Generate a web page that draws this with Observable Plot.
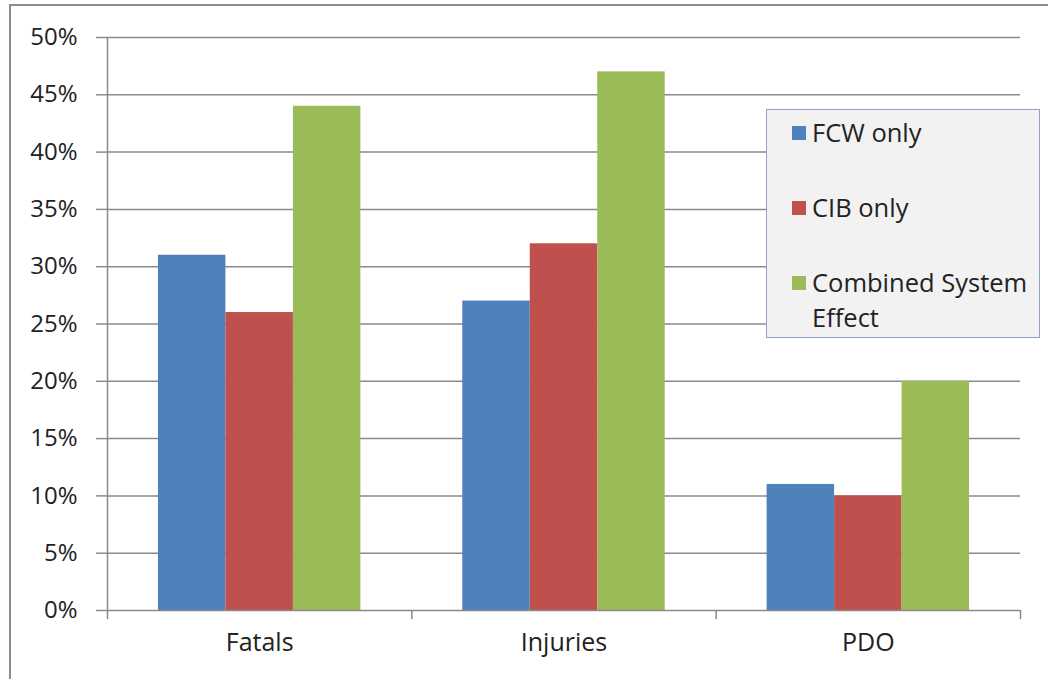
<!DOCTYPE html>
<html>
<head>
<meta charset="utf-8">
<script src="https://cdn.jsdelivr.net/npm/d3@7"></script>
<script src="https://cdn.jsdelivr.net/npm/@observablehq/plot@0.6"></script>
<style>
  html, body { margin: 0; padding: 0; background: #fff; }
  #wrap { position: relative; width: 1048px; height: 679px; overflow: hidden; background: #fff; font-family: "Open Sans", sans-serif; }
  #frame { position: absolute; left: 9px; top: 4px; width: 1100px; height: 760px; border-left: 2px solid #8c8c8c; border-top: 2px solid #8c8c8c; box-sizing: border-box; }
  #chart { position: absolute; left: 0; top: 0; }
  #legend { position: absolute; left: 766px; top: 109px; width: 274px; height: 229px; background: #f2f2f2; border: 1.5px solid #8ea3c2; box-sizing: border-box; }
  .item { position: absolute; left: 45px; font-size: 25.5px; line-height: 35px; color: #222; }
  .sw { position: absolute; left: -20px; top: 11px; width: 14px; height: 14px; }
</style>
</head>
<body>
<div id="wrap">
  <div id="frame"></div>
  <div id="chart"></div>
  <div id="legend"></div>
</div>
<script>
const categories = ["Fatals", "Injuries", "PDO"];
const seriesNames = ["FCW only", "CIB only", "Combined System Effect"];
const fcwOnly = [31, 27, 11];
const cibOnly = [26, 32, 10];
const combined = [44, 47, 20];
const seriesColors = ["#4f81bd", "#c0504d", "#9bbb59"];
const yTicks = [0, 5, 10, 15, 20, 25, 30, 35, 40, 45, 50];
const yTickLabels = yTicks.map(v => v + "%");

const seriesValues = [fcwOnly, cibOnly, combined];
const inner = d3.scaleBand().domain(seriesNames).range([0, 1]).paddingInner(0).paddingOuter(0.755);
const table = [];
categories.forEach((c, i) => {
  seriesNames.forEach((s, j) => {
    const x1 = i + inner(s);
    table.push({category: c, series: s, value: seriesValues[j][i], x1, x2: x1 + inner.bandwidth()});
  });
});

const gray = "#8a8a8a";
const chart = Plot.plot({
  width: 1048,
  height: 679,
  marginLeft: 107,
  marginRight: 28,
  marginTop: 37,
  marginBottom: 69,
  style: {fontFamily: "Open Sans, sans-serif", fontSize: "24px", color: "#222", background: "transparent"},
  x: {domain: [0, categories.length], axis: null},
  y: {domain: [0, 50], axis: null},
  color: {domain: seriesNames, range: seriesColors},
  marks: [
    Plot.ruleY(yTicks.filter(v => v > 0), {stroke: gray, strokeWidth: 1.5}),
    Plot.rectY(table, {x1: "x1", x2: "x2", y: "value", fill: "series"}),
    Plot.ruleY([0], {stroke: gray, strokeWidth: 1.5}),
    Plot.ruleX([0], {y1: 0, y2: 50, stroke: gray, strokeWidth: 1.5}),
    Plot.axisY({ticks: yTicks, tickFormat: (d, i) => yTickLabels[i], label: null, tickSize: 11, tickPadding: 19, stroke: gray, strokeWidth: 1.5, fill: "#222"}),
    Plot.axisX({ticks: d3.range(categories.length + 1), tickFormat: () => "", label: null, tickSize: 9, stroke: gray, strokeWidth: 1.5}),
    Plot.axisX({ticks: categories.map((c, i) => i + 0.5), tickFormat: d => categories[Math.floor(d)], label: null, tickSize: 0, tickPadding: 23, fontSize: 25, fill: "#222"})
  ]
});
document.getElementById("chart").appendChild(chart);

const legend = document.getElementById("legend");
const legendTops = [5, 80, 155];
seriesNames.forEach((s, j) => {
  const it = document.createElement("div");
  it.className = "item";
  it.style.top = legendTops[j] + "px";
  it.style.width = "224px";
  const sw = document.createElement("span");
  sw.className = "sw";
  sw.style.background = seriesColors[j];
  it.appendChild(sw);
  const t = document.createElement("span");
  t.textContent = s;
  it.appendChild(t);
  legend.appendChild(it);
});
</script>
</body>
</html>
